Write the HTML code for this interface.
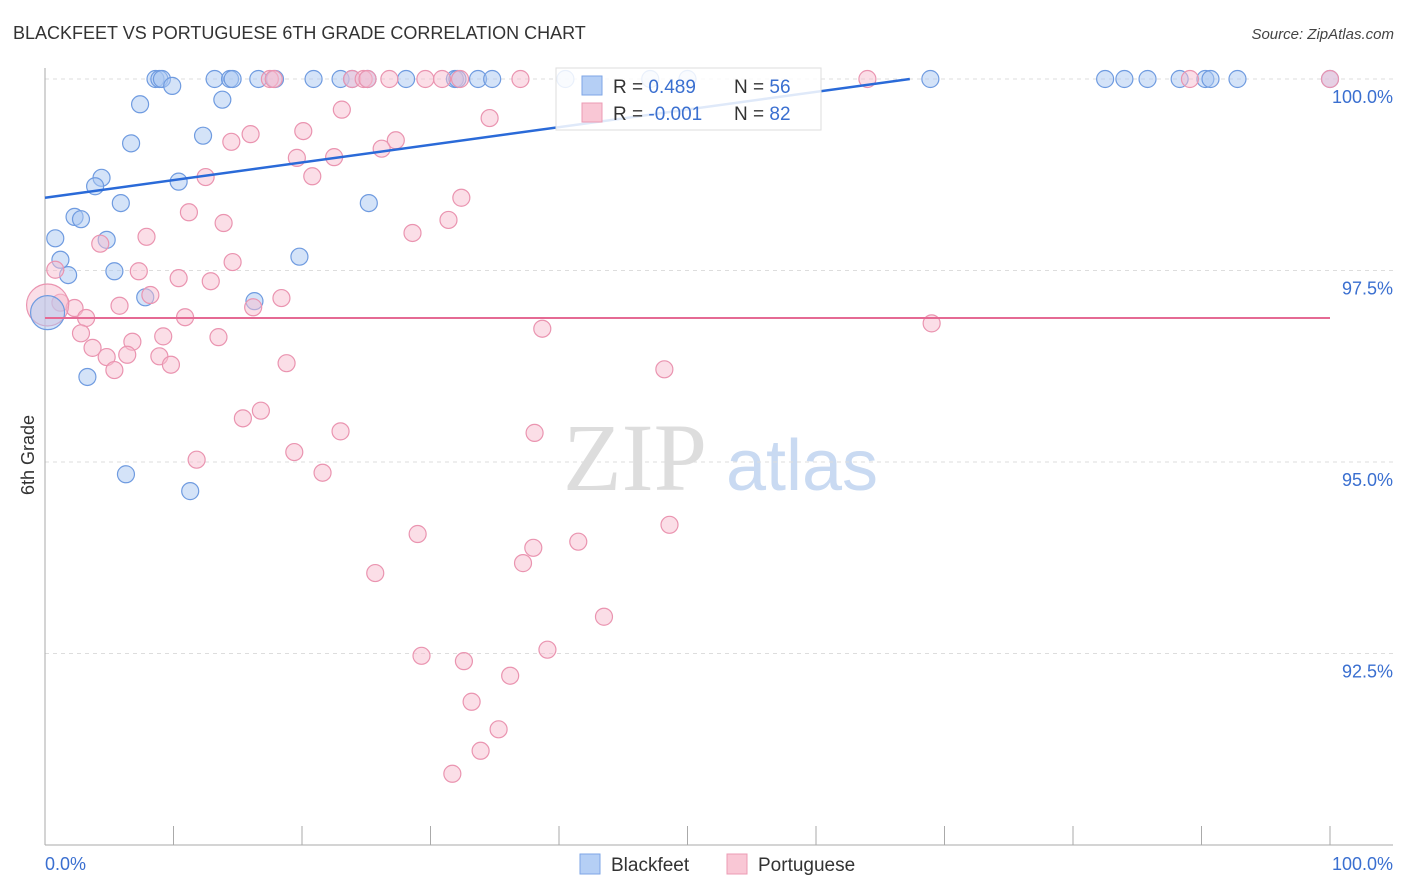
<!DOCTYPE html>
<html><head><meta charset="utf-8"><style>
body{margin:0;background:#fff;font-family:"Liberation Sans",sans-serif}
svg{display:block}
</style></head><body>
<svg id="chart" width="1406" height="892" viewBox="0 0 1406 892">
<text x="13" y="39" font-size="18" fill="#333">BLACKFEET VS PORTUGUESE 6TH GRADE CORRELATION CHART</text>
<text x="1394" y="39" font-size="15" fill="#444" text-anchor="end" font-style="italic">Source: ZipAtlas.com</text>
<g>
<text x="635" y="490" font-size="96" fill="#ddd" font-family="Liberation Serif" text-anchor="middle">ZIP</text>
<text x="802" y="490" font-size="72" fill="#c9daf2" text-anchor="middle">atlas</text>
</g>
<g id="grid"></g>
<g id="axes"></g>
<g id="points"></g>
<g id="trends"></g>
<text transform="translate(34,455) rotate(-90)" font-size="18" fill="#333" text-anchor="middle">6th Grade</text>
<text x="45" y="870" font-size="18" fill="#3a6fd0">0.0%</text>
<text x="1393" y="870" font-size="18" fill="#3a6fd0" text-anchor="end">100.0%</text>
<g>
<rect x="556" y="68" width="265" height="62" fill="#fff" fill-opacity="0.85" stroke="#ddd"/>
<rect x="582" y="76" width="20" height="19" fill="#b5cff5" stroke="#7ea6e6"/>
<rect x="582" y="103" width="20" height="19" fill="#f9c7d5" stroke="#ec9bb4"/>
<text x="613" y="93" font-size="19" fill="#333">R = <tspan fill="#3a6fd0">0.489</tspan></text>
<text x="734" y="93" font-size="19" fill="#333">N = <tspan fill="#3a6fd0">56</tspan></text>
<text x="613" y="120" font-size="19" fill="#333">R = <tspan fill="#3a6fd0">-0.001</tspan></text>
<text x="734" y="120" font-size="19" fill="#333">N = <tspan fill="#3a6fd0">82</tspan></text>
</g>
<g>
<rect x="580" y="854" width="20" height="20" fill="#b5cff5" stroke="#7ea6e6"/>
<text x="611" y="871" font-size="19" fill="#333">Blackfeet</text>
<rect x="727" y="854" width="20" height="20" fill="#f9c7d5" stroke="#ec9bb4"/>
<text x="758" y="871" font-size="19" fill="#333">Portuguese</text>
</g>
</svg>
<script>
const yTicks=[100,97.5,95,92.5];
const yTickLabels=["100.0%","97.5%","95.0%","92.5%"];
const xTicks=[0,10,20,30,40,50,60,70,80,90,100];
const blueX=[8.6,8.9,9.1,9.9,7.4,13.2,14.4,14.6,13.8,16.6,17.9,20.9,23.0,23.9,25.1,28.1,31.9,32.1,33.7,34.8,40.5,47.1,50.0,68.9,82.5,84.0,85.8,88.3,90.3,90.7,92.8,100,6.7,12.3,4.4,3.9,10.4,5.9,2.3,2.8,25.2,0.8,4.8,19.8,1.2,1.8,5.4,7.8,16.3,3.3,6.3,11.3];
const blueY=[100,100,100,99.91,99.67,100,100,100,99.73,100,100,100,100,100,100,100,100,100,100,100,100,100,100,100,100,100,100,100,100,100,100,100,99.16,99.26,98.71,98.60,98.66,98.38,98.20,98.17,98.38,97.92,97.90,97.68,97.64,97.44,97.49,97.15,97.10,96.11,94.84,94.62];
const pinkX=[17.5,17.8,23.9,24.8,25.1,26.8,29.6,30.9,32.3,37.0,64.0,89.1,100,23.1,34.6,20.1,16.0,14.5,27.3,26.2,19.6,22.5,20.8,12.5,32.4,11.2,13.9,31.4,28.6,7.9,4.3,14.6,0.8,7.3,10.4,12.9,8.2,18.4,1.2,5.8,2.3,16.2,3.2,10.9,38.7,2.8,13.5,9.2,6.8,69.0,3.7,6.4,8.9,4.8,5.4,9.8,18.8,48.2,16.8,15.4,23.0,38.1,19.4,11.8,21.6,48.6,29.0,41.5,38.0,37.2,25.7,43.5,39.1,29.3,32.6,36.2,33.2,35.3,33.9,31.7];
const pinkY=[100,100,100,100,100,100,100,100,100,100,100,100,100,99.60,99.49,99.32,99.28,99.18,99.20,99.09,98.97,98.98,98.73,98.72,98.45,98.26,98.12,98.16,97.99,97.94,97.85,97.61,97.51,97.49,97.40,97.36,97.18,97.14,97.08,97.04,97.01,97.02,96.88,96.89,96.74,96.68,96.63,96.64,96.57,96.81,96.49,96.40,96.38,96.37,96.20,96.27,96.29,96.21,95.67,95.57,95.40,95.38,95.13,95.03,94.86,94.18,94.06,93.96,93.88,93.68,93.55,92.98,92.55,92.47,92.40,92.21,91.87,91.51,91.23,90.93];
const bigPoints=[[0.2,97.05,"pink",21],[0.2,96.95,"blue",17]];
const blueTrend=[[0,98.45],[67.3,100]];
const pinkTrend=[[0,96.88],[100,96.88]];
const NS="http://www.w3.org/2000/svg";
const xs=v=>45+v*12.85, ys=v=>79+(100-v)*76.6;
function mk(t,a,p){const e=document.createElementNS(NS,t);for(const k in a)e.setAttribute(k,a[k]);document.getElementById(p).appendChild(e);return e;}
yTicks.forEach((t,i)=>{
 const l=mk('line',{x1:45,x2:1393,y1:ys(t),y2:ys(t),stroke:'#ddd','stroke-dasharray':'4,4'},'grid');
 
 
 const tx=mk('text',{x:1393,y:ys(t)+24,'font-size':18,fill:'#3a6fd0','text-anchor':'end'},'grid');
 tx.textContent=yTickLabels[i];
 
 
});
let a=mk('line',{x1:45,x2:45,y1:68,y2:845,stroke:'#aaa'},'axes');


a=mk('line',{x1:45,x2:1393,y1:845,y2:845,stroke:'#aaa'},'axes');


xTicks.forEach(t=>{const l=mk('line',{x1:xs(t),x2:xs(t),y1:826,y2:845,stroke:'#aaa'},'axes');
 
 });
function dot(x,y,c,r){
 const blue=c==='blue';
 const e=mk('circle',{cx:xs(x),cy:ys(y),r:r,fill:blue?'#a9c7f2':'#f7bdd0','fill-opacity':0.5,stroke:blue?'#6f9be0':'#ea94b0','stroke-width':1.2},'points');
 
 
}
blueX.forEach((x,i)=>dot(x,blueY[i],'blue',8.5));
pinkX.forEach((x,i)=>dot(x,pinkY[i],'pink',8.5));
bigPoints.forEach(p=>dot(p[0],p[1],p[2],p[3]));
let t=mk('line',{x1:xs(blueTrend[0][0]),y1:ys(blueTrend[0][1]),x2:xs(blueTrend[1][0]),y2:ys(blueTrend[1][1]),stroke:'#2a6ad8','stroke-width':2.5},'trends');


t=mk('line',{x1:xs(pinkTrend[0][0]),y1:ys(pinkTrend[0][1]),x2:xs(pinkTrend[1][0]),y2:ys(pinkTrend[1][1]),stroke:'#e56a94','stroke-width':2},'trends');


</script>
</body></html>
